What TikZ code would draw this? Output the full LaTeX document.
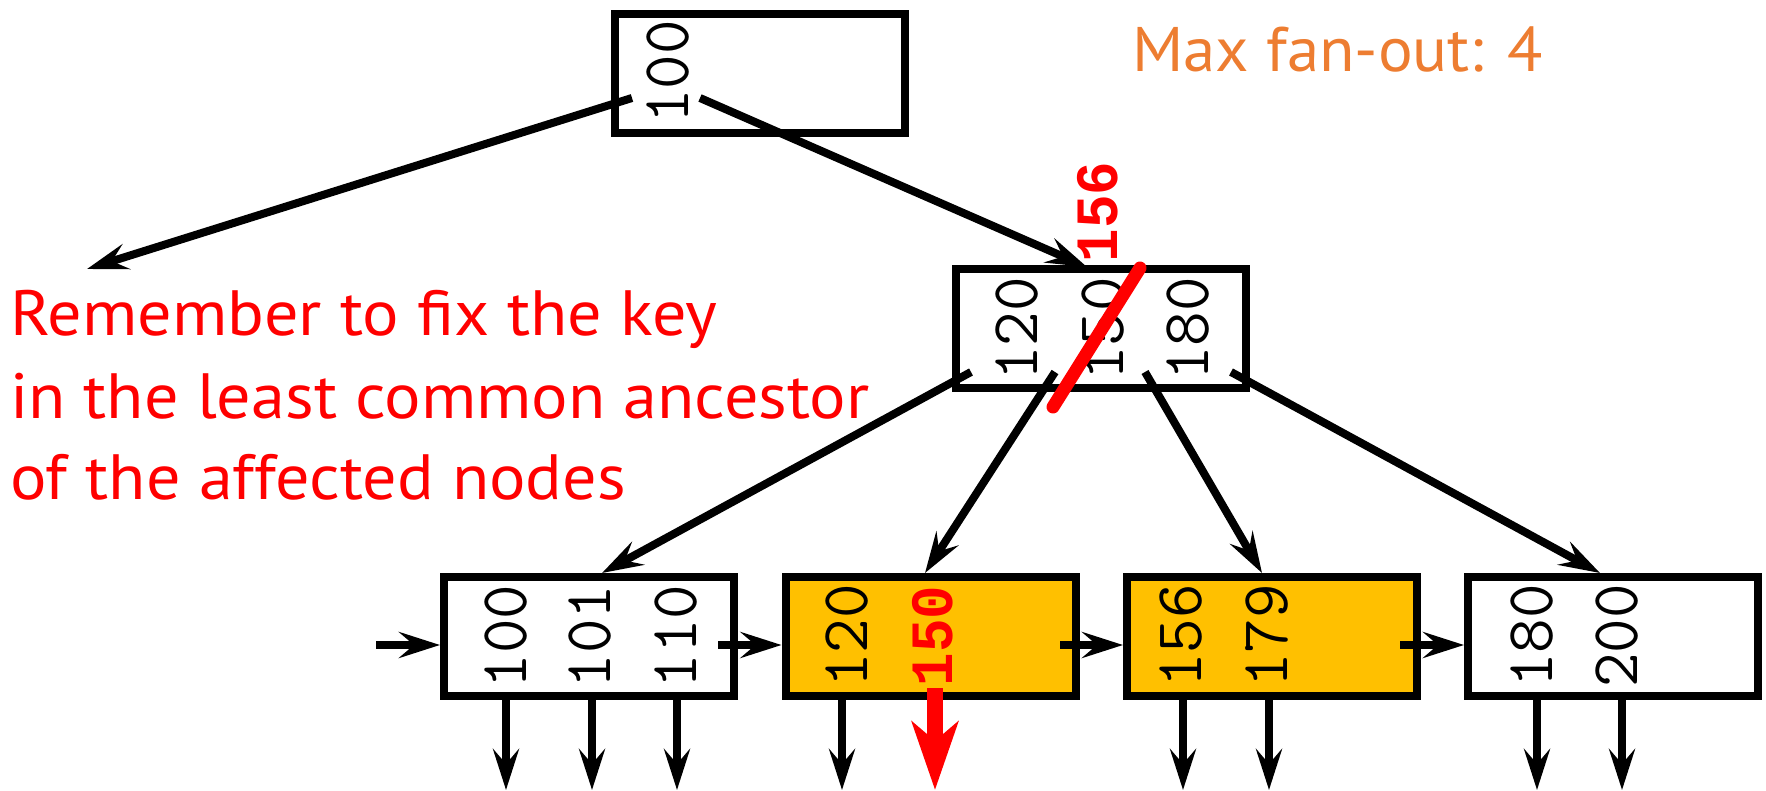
\documentclass[tikz,border=0pt]{standalone}
\usepackage{fontspec}
\newfontfamily\notefont[FakeStretch=1.065]{PT Sans}
\newfontfamily\fanfont[FakeStretch=1.03]{PT Sans}
\newfontfamily\redmono[FakeStretch=0.93]{Liberation Mono}
\usetikzlibrary{arrows.meta}
\definecolor{keyred}{HTML}{FF0000}
\definecolor{fanorange}{HTML}{ED7D31}
\definecolor{leafgold}{HTML}{FFC000}
\tikzset{
  treebox/.style={draw=black, line width=8pt, minimum width=290pt, minimum height=119pt, inner sep=0pt},
  leafhl/.style={treebox, fill=leafgold},
  keytext/.style={rotate=90, inner sep=0pt, font=\fontsize{67}{67}\selectfont\ttfamily},
  redkey/.style={rotate=90, inner sep=0pt, text=keyred, font=\fontsize{60}{60}\selectfont\redmono\bfseries},
  ptr/.style={line width=8pt, -{Stealth[length=41pt, width=26pt, inset=15pt]}},
  redptr/.style={draw=keyred, line width=16pt, -{Stealth[length=68pt, width=46pt, inset=19pt]}},
  notetext/.style={inner sep=0pt, anchor=base west, text=keyred, font=\fontsize{64}{82}\selectfont\notefont},
}
\begin{document}
\begin{tikzpicture}[x=1pt, y=-1pt]
\useasboundingbox (0,0) rectangle (1766,791);

% boxes
\node[treebox] (root) at (759.5,73.5) {};
\node[treebox] (mid) at (1101,328.5) {};
\node[treebox] (leafA) at (589,636) {};
\node[leafhl] (leafB) at (930.5,636) {};
\node[leafhl] (leafC) at (1272,636) {};
\node[treebox] (leafD) at (1613,636) {};

% keys
\node[keytext] (k100) at (668,72) {100};
\node[keytext] (m120) at (1017,329) {120};
\node[keytext] (m150) at (1103,329) {150};
\node[keytext] (m180) at (1188,329) {180};
\node[redkey] (m156) at (1098,212) {156};

\node[keytext] (a100) at (506,636.5) {100};
\node[keytext] (a101) at (590,636.5) {101};
\node[keytext] (a110) at (676,636.5) {110};
\node[keytext] (b120) at (847,636) {120};
\node[redkey] (b150) at (933,636) {150};
\node[keytext] (c156) at (1181,636) {156};
\node[keytext] (c179) at (1267,636) {179};
\node[keytext] (d180) at (1532,636) {180};
\node[keytext] (d200) at (1617,636) {200};

% coordinates
\coordinate (rootL) at (632,98);
\coordinate (rootR) at (700,98);
\coordinate (leftEnd) at (87,269);
\coordinate (midIn) at (1087,267);
\coordinate (m1) at (971,372);
\coordinate (m2) at (1055,372);
\coordinate (m3) at (1145,372);
\coordinate (m4) at (1231,372);
\coordinate (inA) at (602,573);
\coordinate (inB) at (925,573);
\coordinate (inC) at (1262,573);
\coordinate (inD) at (1600,573);
\coordinate (slashA) at (1140,268);
\coordinate (slashB) at (1053,407);
\coordinate (chainStart) at (376,645);
\coordinate (outA) at (718,645);
\coordinate (outB) at (1060,645);
\coordinate (outC) at (1400,645);

% tree pointers
\draw[ptr] (rootL) -- (leftEnd);
\draw[ptr] (rootR) -- (midIn);
\draw[ptr] (m1) -- (inA);
\draw[ptr] (m2) -- (inB);
\draw[ptr] (m3) -- (inC);
\draw[ptr] (m4) -- (inD);

% leaf chain
\draw[ptr] (chainStart) -- (chainStart -| leafA.west);
\draw[ptr] (outA) -- (outA -| leafB.west);
\draw[ptr] (outB) -- (outB -| leafC.west);
\draw[ptr] (outC) -- (outC -| leafD.west);

% down pointers
\foreach \x/\n in {506/a1,592/a2,677/a3,842/b1,1183/c1,1269/c2,1537/d1,1622/d2} {
  \coordinate (\n top) at (\x,692);
  \coordinate (\n bot) at (\x,790);
  \draw[ptr] (\n top) -- (\n bot);
}
\coordinate (b2top) at (935,688);
\coordinate (b2bot) at (935,790);
\draw[redptr] (b2top) -- (b2bot);

% red strike
\draw[keyred, line width=13pt, line cap=round] (slashA) -- (slashB);

% texts
\node[notetext] (note1) at (10,336) {Remember to fix the key};
\node[notetext] (note2) at (10,418) {in the least common ancestor};
\node[notetext] (note3) at (10,499) {of the affected nodes};
\node[notetext, text=fanorange, font=\fontsize{63}{63}\selectfont\fanfont] (fan) at (1132,72) {Max fan-out: 4};
\end{tikzpicture}
\end{document}
